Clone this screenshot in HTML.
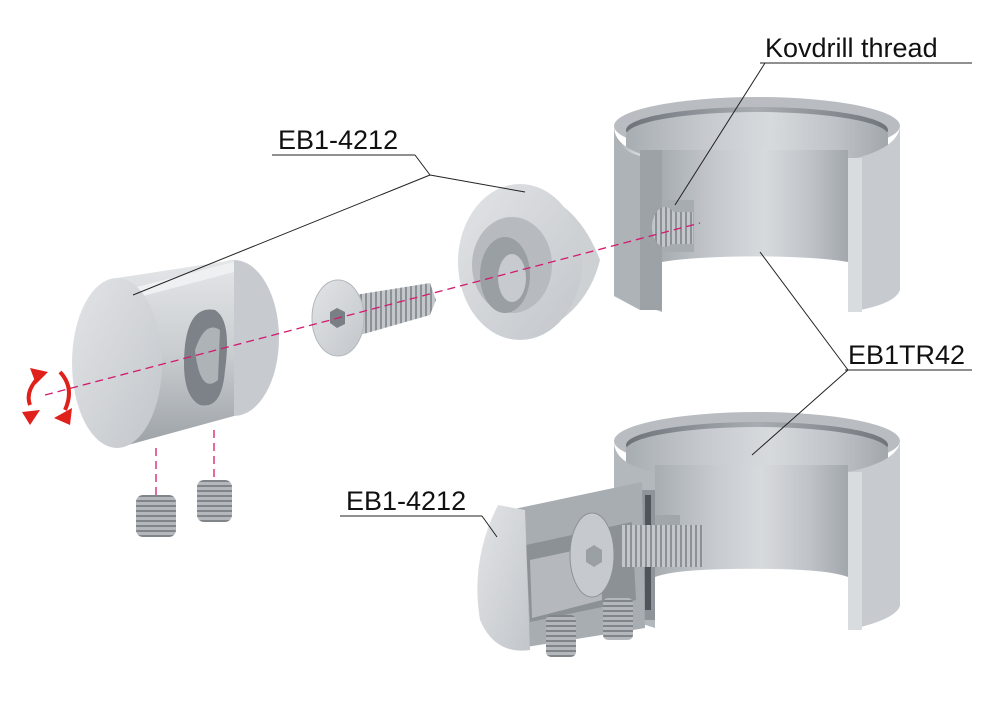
<!DOCTYPE html>
<html><head><meta charset="utf-8"><style>
html,body{margin:0;padding:0;background:#fff;width:1000px;height:707px;overflow:hidden}
text{font-family:"Liberation Sans",sans-serif;font-size:27px;fill:#111}
</style></head><body>
<svg width="1000" height="707" viewBox="0 0 1000 707" xmlns="http://www.w3.org/2000/svg">
<defs>
<linearGradient id="cyl" x1="0" x2="1" y1="0" y2="0">
<stop offset="0" stop-color="#9aa0a6"/><stop offset="0.35" stop-color="#c9cdd1"/><stop offset="0.7" stop-color="#e4e6e9"/><stop offset="1" stop-color="#a9aeb3"/></linearGradient>
<linearGradient id="back" x1="0" x2="1" y1="0" y2="0">
<stop offset="0" stop-color="#a8adb2"/><stop offset="0.3" stop-color="#c6cacf"/><stop offset="0.55" stop-color="#d7dadd"/><stop offset="0.8" stop-color="#bfc3c8"/><stop offset="1" stop-color="#a2a7ac"/></linearGradient>
<linearGradient id="cylv" x1="0" x2="0" y1="0" y2="1">
<stop offset="0" stop-color="#e4e6e8"/><stop offset="0.5" stop-color="#c9cdd0"/><stop offset="1" stop-color="#9ca1a6"/></linearGradient>
<linearGradient id="face" x1="0" x2="1" y1="0" y2="1">
<stop offset="0" stop-color="#e2e4e7"/><stop offset="1" stop-color="#c2c6ca"/></linearGradient>
<linearGradient id="rimin" x1="0" x2="1">
<stop offset="0" stop-color="#6e737a"/><stop offset="0.5" stop-color="#a8adb2"/><stop offset="1" stop-color="#70757b"/></linearGradient>
<pattern id="thr" width="5" height="10" patternUnits="userSpaceOnUse"><rect width="5" height="10" fill="#c3c7cb"/><rect width="2" height="10" fill="#8c9196"/></pattern>
<pattern id="thrh" width="10" height="5" patternUnits="userSpaceOnUse"><rect width="10" height="5" fill="#b4b8bd"/><rect width="10" height="2" fill="#80858a"/></pattern>
</defs>

<!-- TOP RING -->
<ellipse cx="757" cy="126" rx="143" ry="29" fill="#b9bdc2"/>
<ellipse cx="757" cy="130" rx="131" ry="23" fill="url(#rimin)"/>
<path d="M626 135 A131 23 0 0 1 888 135 L888 175 L848 175 L848 260 A131 23 0 0 0 662 260 L662 175 L626 175 Z" fill="url(#back)"/>
<path d="M662 150 L848 150 L848 262 A110 12 0 0 0 662 262 Z" fill="url(#back)"/>
<path d="M614 128 Q615 150 662 160 L662 312 L614 296 Z" fill="url(#cyl)"/>
<rect x="640" y="150" width="22" height="160" fill="#9da2a7"/>
<path d="M614 128 Q616 150 640 156 L640 310 L614 296Z" fill="#aeb3b8"/>
<path d="M848 160 Q895 150 900 128 L900 290 Q895 305 848 312 Z" fill="#c7cbcf"/>
<rect x="848" y="158" width="14" height="154" fill="#d9dcdf"/>
<rect x="662" y="200" width="32" height="52" fill="#a7acb1"/>
<ellipse cx="665" cy="227" rx="13" ry="20" fill="url(#thr)"/>
<rect x="665" y="212" width="28" height="32" fill="url(#thr)"/>

<!-- BOTTOM RING -->
<ellipse cx="757" cy="441" rx="143" ry="29" fill="#b9bdc2"/>
<ellipse cx="757" cy="445" rx="131" ry="23" fill="url(#rimin)"/>
<path d="M626 450 A131 23 0 0 1 888 450 L888 490 L848 490 L848 575 A110 12 0 0 0 655 575 L655 490 L626 490Z" fill="url(#back)"/>
<path d="M655 465 L848 465 L848 577 A100 12 0 0 0 655 577 Z" fill="url(#back)"/>
<path d="M614 443 Q616 465 655 472 L655 628 L614 615 Z" fill="#b3b8bd"/>
<path d="M848 472 Q895 462 900 443 L900 606 Q895 620 848 630 Z" fill="#c7cbcf"/>
<rect x="848" y="472" width="14" height="158" fill="#d9dcdf"/>
<rect x="640" y="515" width="40" height="50" fill="#a1a6ab"/>
<rect x="640" y="490" width="15" height="130" fill="#8f949a"/>
<rect x="645" y="495" width="6" height="115" fill="#4f545a"/>

<!-- cutaway clamp -->
<path d="M500 512 L642 482 L645 628 L520 648 Z" fill="#a8adb2"/>
<path d="M526 545 L632 522 L636 600 L530 622 Z" fill="#8c9196"/>
<path d="M530 560 L600 545 L602 600 L532 618 Z" fill="#b5b9be"/>
<rect x="620" y="525" width="85" height="42" fill="url(#thr)"/>
<ellipse cx="592" cy="555" rx="22" ry="42" fill="#c6cacf" stroke="#8d9297"/>
<polygon points="594,545 602,550 602,562 594,567 586,562 586,550" fill="#9ba0a5"/>
<path d="M498 505 Q470 560 480 620 Q495 655 530 650 L525 510 Z" fill="url(#face)"/>
<rect x="546" y="615" width="30" height="42" rx="5" fill="url(#thrh)"/>
<rect x="603" y="598" width="30" height="42" rx="5" fill="url(#thrh)"/>

<!-- LEFT CYLINDER -->
<ellipse cx="234" cy="338" rx="45" ry="78" fill="#c7cbcf"/>
<path d="M117 278 L234 260 L234 416 L117 448 Z" fill="url(#cylv)"/>
<path d="M125 290 L234 262 L234 272 L128 300Z" fill="#eef0f1"/>
<ellipse cx="117" cy="363" rx="45" ry="85" fill="url(#face)"/>
<path d="M185 345 Q190 305 215 310 Q232 320 225 370 Q222 410 200 405 Q180 395 185 345Z" fill="#7d8288"/>
<path d="M195 350 Q205 320 220 330 L218 380 Q200 395 195 350Z" fill="#aeb3b8"/>
<rect x="136" y="495" width="40" height="42" rx="7" fill="url(#thrh)"/>
<rect x="197" y="480" width="35" height="42" rx="7" fill="url(#thrh)"/>

<!-- SCREW -->
<path d="M355 295 L430 283 L436 300 L430 315 L360 335 Z" fill="url(#thr)"/>
<ellipse cx="338" cy="318" rx="26" ry="38" fill="url(#face)" stroke="#b2b6ba"/>
<polygon points="337,308 345,312 345,324 337,328 330,323 330,312" fill="#7a7f85"/>

<!-- CAP -->
<path d="M490 210 L520 190 Q575 195 600 260 Q585 320 520 340 L500 330 Z" fill="#cdd1d4"/>
<ellipse cx="520" cy="262" rx="62" ry="78" fill="url(#face)"/>
<ellipse cx="512" cy="265" rx="40" ry="48" fill="#b7bbc0"/>
<ellipse cx="505" cy="275" rx="25" ry="38" fill="#9a9fa4"/>
<ellipse cx="512" cy="278" rx="14" ry="24" fill="#c7cbcf"/>

<g stroke="#d21a6e" stroke-width="1.3" stroke-dasharray="8,5" fill="none">
<line x1="45" y1="395" x2="700" y2="223"/>
<line x1="156" y1="448" x2="156" y2="495"/>
<line x1="214" y1="430" x2="214" y2="482"/>
</g>
<g stroke="#e0201b" stroke-width="4" fill="none">
<path d="M38 378 Q25 392 30 405"/>
<path d="M60 372 Q75 388 65 410"/>
</g>
<polygon points="30,368 48,372 36,384" fill="#e0201b"/>
<polygon points="22,412 40,410 30,425" fill="#e0201b"/>
<polygon points="54,418 72,408 70,425" fill="#e0201b"/>

<g stroke="#222" stroke-width="1" fill="none">
<line x1="760" y1="63" x2="972" y2="63"/><line x1="765" y1="63" x2="675" y2="205"/>
<line x1="272" y1="155" x2="415" y2="155"/><line x1="415" y1="155" x2="430" y2="175"/>
<line x1="430" y1="175" x2="133" y2="295"/><line x1="430" y1="175" x2="525" y2="192"/>
<line x1="845" y1="370" x2="972" y2="370"/><line x1="848" y1="370" x2="760" y2="252"/><line x1="848" y1="370" x2="752" y2="455"/>
<line x1="340" y1="516" x2="482" y2="516"/><line x1="482" y1="516" x2="497" y2="537"/>
</g>
<text x="765" y="57">Kovdrill thread</text>
<text x="278" y="149">EB1-4212</text>
<text x="848" y="364">EB1TR42</text>
<text x="346" y="510">EB1-4212</text>
</svg>
</body></html>
